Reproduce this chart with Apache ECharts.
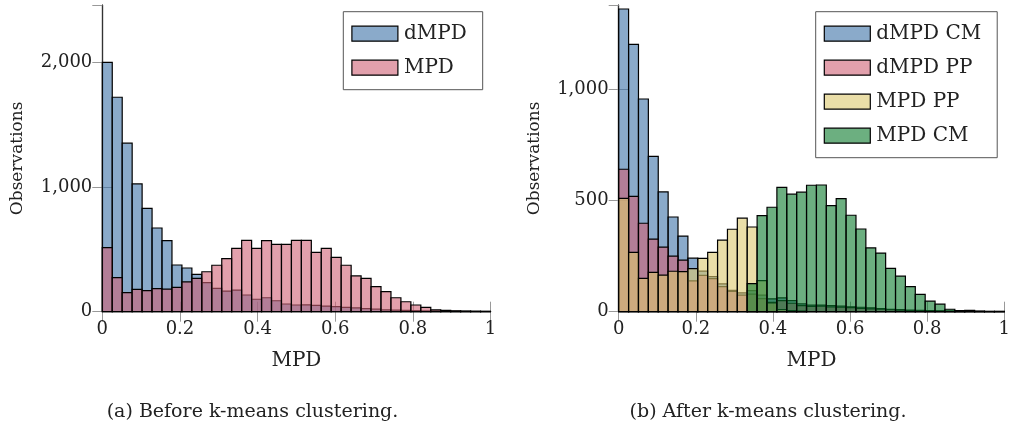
<!DOCTYPE html>
<html>
<head>
<meta charset="utf-8">
<script src="https://cdn.jsdelivr.net/npm/echarts@6/dist/echarts.min.js"></script>
<style>
html,body{margin:0;padding:0;background:#fff;}
#c{width:1013px;height:429px;}
</style>
</head>
<body>
<div id="c"></div>
<script>
// ---- data (39 equal-width bins on [0,1]) ----
const binCount = 39;
const xTicks = [0, 0.2, 0.4, 0.6, 0.8, 1];
// (a) before clustering
const dMPD = [2003, 1722, 1353, 1026, 830, 672, 570, 375, 351, 300, 233, 188, 166, 174, 134, 100, 112, 88, 62, 54, 55, 50, 45, 40, 35, 30, 25, 20, 15, 12, 10, 8, 6, 5, 4, 3, 3, 2, 2];
const MPD  = [514, 273, 153, 180, 169, 185, 182, 196, 239, 268, 321, 373, 426, 509, 573, 509, 570, 541, 541, 573, 573, 477, 509, 437, 373, 287, 268, 201, 161, 112, 80, 54, 35, 15, 10, 7, 5, 4, 3];
// (b) after clustering
const dMPD_CM = [1362, 1203, 957, 699, 539, 426, 340, 241, 183, 158, 125, 96, 85, 95, 75, 58, 62, 50, 35, 30, 30, 28, 25, 22, 20, 17, 14, 11, 9, 7, 6, 5, 4, 3, 2, 2, 2, 1, 1];
const dMPD_PP = [641, 519, 398, 327, 291, 250, 232, 139, 163, 149, 113, 91, 75, 79, 59, 42, 50, 38, 27, 24, 25, 22, 20, 18, 15, 13, 11, 9, 7, 5, 4, 3, 2, 2, 2, 1, 1, 1, 1];
const MPD_PP  = [510, 267, 150, 177, 165, 182, 180, 194, 240, 267, 322, 371, 421, 381, 140, 40, 10, 5, 3, 0, 0, 0, 0, 0, 0, 0, 0, 0, 0, 0, 0, 0, 0, 0, 0, 0, 0, 0, 0];
const MPD_CM  = [0, 0, 0, 0, 0, 0, 0, 0, 0, 0, 0, 0, 0, 126, 432, 470, 559, 529, 538, 569, 570, 477, 509, 434, 372, 287, 264, 195, 160, 113, 78, 48, 34, 11, 5, 6, 2, 1, 1];
const yTicksA = [0, 1000, 2000];
const yTicksB = [0, 500, 1000];

// ---- styles ----
const FONT = 'DejaVu Serif';
const C_BLUE = 'rgba(60,113,167,0.6)';
const C_RED = 'rgba(207,97,117,0.6)';
const C_YEL = 'rgba(220,200,110,0.6)';
const C_GRN = 'rgba(10,122,43,0.6)';

function binData(vals) {
  const w = 1 / binCount;
  const out = [];
  vals.forEach((v, i) => { if (v > 0) out.push([i * w, v, (i + 1) * w]); });
  return out;
}
function renderItem(params, api) {
  const p0 = api.coord([api.value(0), api.value(1)]);
  const p1 = api.coord([api.value(2), 0]);
  return {
    type: 'rect',
    shape: { x: p0[0], y: p0[1], width: p1[0] - p0[0], height: p1[1] - p0[1] },
    style: { fill: api.visual('color'), stroke: '#000', lineWidth: 1.2 }
  };
}
function hist(name, vals, color, gi) {
  return {
    type: 'custom', name: name, xAxisIndex: gi * 2, yAxisIndex: gi * 2,
    renderItem: renderItem,
    itemStyle: { color: color, borderColor: '#000', borderWidth: 1.2 },
    encode: { x: [0, 2], y: 1 },
    data: binData(vals)
  };
}

const axisLineStyle = { show: true, lineStyle: { color: '#333', width: 1.2 } };
const tickStyle = { show: true, inside: true, length: 10, lineStyle: { color: '#999', width: 1 } };
const labelFont = { fontFamily: FONT, fontSize: 18, color: '#222' };

function xAxes(gi) {
  return [
    { gridIndex: gi, type: 'value', min: 0, max: 1, interval: 0.2, position: 'bottom',
      axisLine: axisLineStyle, axisTick: tickStyle, splitLine: { show: false },
      axisLabel: Object.assign({ margin: 9, formatter: v => xTicks.includes(Math.round(v * 10) / 10) ? String(Math.round(v * 10) / 10) : '' }, labelFont),
      name: 'MPD', nameLocation: 'middle', nameGap: 39,
      nameTextStyle: { fontFamily: FONT, fontSize: 20, color: '#222' } },
    { gridIndex: gi, type: 'value', min: 0, max: 1, interval: 0.2, position: 'top',
      axisLine: axisLineStyle, axisTick: tickStyle, axisLabel: { show: false }, splitLine: { show: false } }
  ];
}
function yAxes(gi, max, interval, ticks) {
  return [
    { gridIndex: gi, type: 'value', min: 0, max: max, interval: interval, position: 'left',
      axisLine: axisLineStyle, axisTick: tickStyle, splitLine: { show: false },
      axisLabel: Object.assign({ margin: 10, showMaxLabel: false,
        formatter: v => ticks.includes(v) ? v.toLocaleString('en-US') : '' }, labelFont),
      name: 'Observations', nameLocation: 'middle', nameGap: 76, nameRotate: 90,
      nameTextStyle: { fontFamily: FONT, fontSize: 17, color: '#222' } },
    { gridIndex: gi, type: 'value', min: 0, max: max, interval: interval, position: 'right',
      axisLine: axisLineStyle, axisTick: tickStyle, axisLabel: { show: false }, splitLine: { show: false } }
  ];
}
function legend(names, left) {
  return {
    data: names, left: left, top: 11.7, orient: 'vertical', icon: 'rect',
    itemWidth: 46, itemHeight: 15, itemGap: 14,
    backgroundColor: '#fff', borderColor: '#555', borderWidth: 1,
    padding: [12, 16, 12, 8],
    itemStyle: { borderColor: '#000', borderWidth: 1.2 },
    textStyle: { fontFamily: FONT, fontSize: 20, color: '#222', lineHeight: 15, padding: [0, 0, 0, 1] },
    selectedMode: false
  };
}

const chart = echarts.init(document.getElementById('c'), null, { renderer: 'canvas' });
chart.setOption({
  animation: false,
  backgroundColor: '#fff',
  grid: [
    { left: 102.3, top: 5, width: 388.2, height: 306.7 },
    { left: 618.7, top: 5, width: 388, height: 306.7 }
  ],
  xAxis: xAxes(0).concat(xAxes(1)),
  yAxis: yAxes(0, 2463, 1000, yTicksA).concat(yAxes(1, 1380, 500, yTicksB)),
  legend: [
    legend(['dMPD', 'MPD'], 343.3),
    legend(['dMPD CM', 'dMPD PP', 'MPD PP', 'MPD CM'], 815.7)
  ],
  series: [
    hist('dMPD', dMPD, C_BLUE, 0),
    hist('MPD', MPD, C_RED, 0),
    hist('dMPD CM', dMPD_CM, C_BLUE, 1),
    hist('dMPD PP', dMPD_PP, C_RED, 1),
    hist('MPD PP', MPD_PP, C_YEL, 1),
    hist('MPD CM', MPD_CM, C_GRN, 1)
  ],
  graphic: [
    { type: 'text', x: 252.5, y: 412, style: { text: '(a) Before k-means clustering.', fontFamily: FONT, fontSize: 19, fill: '#222', textAlign: 'center', textVerticalAlign: 'middle' } },
    { type: 'text', x: 768, y: 412, style: { text: '(b) After k-means clustering.', fontFamily: FONT, fontSize: 19, fill: '#222', textAlign: 'center', textVerticalAlign: 'middle' } }
  ]
});
</script>
</body>
</html>
